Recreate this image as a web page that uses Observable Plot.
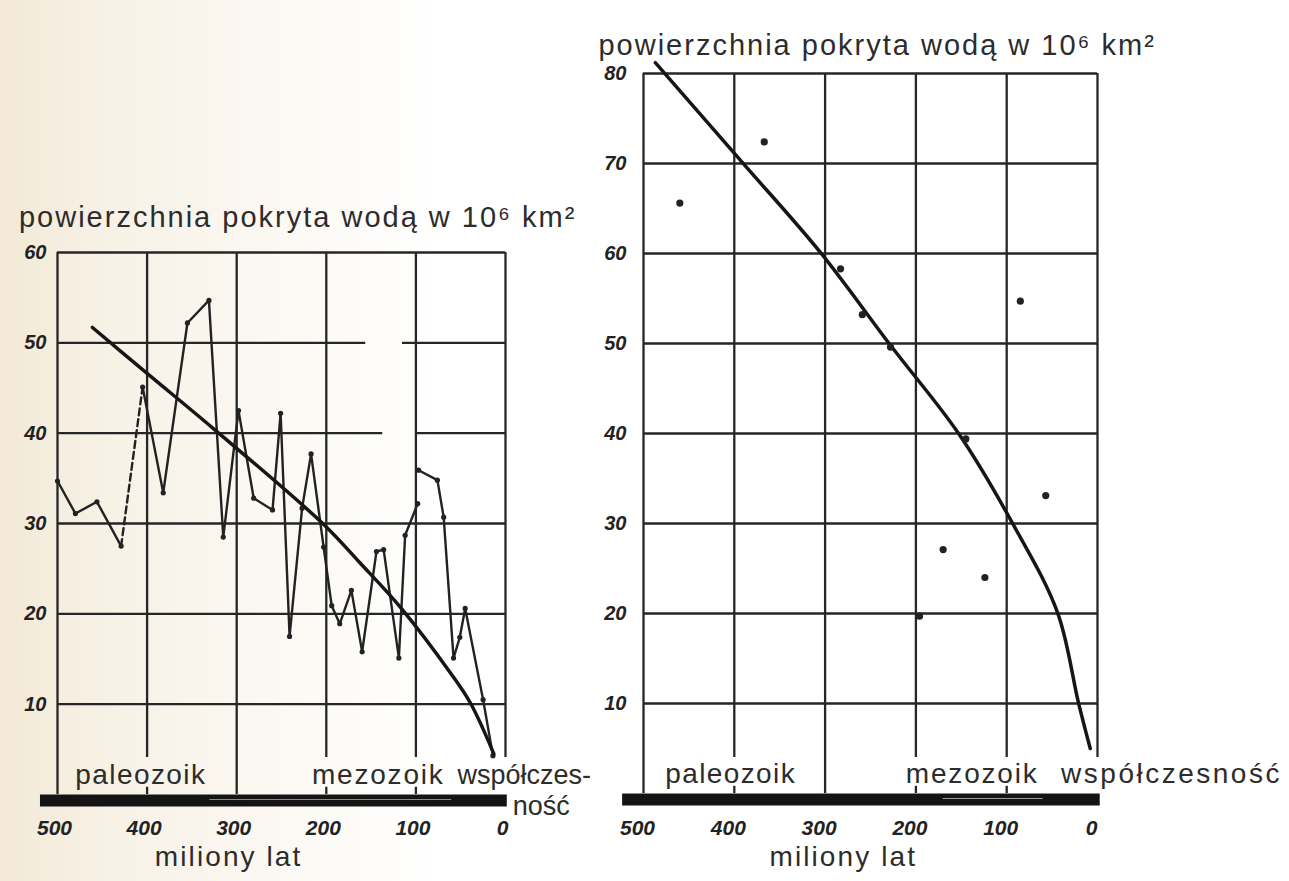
<!DOCTYPE html>
<html><head><meta charset="utf-8">
<script src="https://cdn.jsdelivr.net/npm/d3@7"></script>
<script src="https://cdn.jsdelivr.net/npm/@observablehq/plot@0.6"></script>
<style>
html,body{margin:0;padding:0;width:1289px;height:881px;overflow:hidden;
background:linear-gradient(90deg,#f2e9d7 0%,#f7f1e5 8%,#fbf8f2 20%,#ffffff 34%,#ffffff 100%);}
#wrap{position:relative;width:1289px;height:881px;}
#wrap svg{position:absolute;left:0;top:0;}
</style></head><body><div id="wrap"></div>
<script>
// ---------- data ----------
const xTicks = [500, 400, 300, 200, 100, 0];
const leftYTicks = [10, 20, 30, 40, 50, 60];
const rightYTicks = [10, 20, 30, 40, 50, 60, 70, 80];

const leftAgeA = [500, 480, 456, 429];
const leftValA = [34.7, 31.1, 32.4, 27.5];
const leftAgeDash = [429, 405];
const leftValDash = [27.5, 45.1];
const leftAgeC = [405, 382, 355, 331, 315, 298, 281, 260, 251, 241, 227, 217, 203, 194, 185, 172, 160, 144, 136, 119, 112, 98];
const leftValC = [45.1, 33.4, 52.2, 54.7, 28.5, 42.5, 32.8, 31.5, 42.2, 17.5, 31.7, 37.7, 27.4, 20.9, 18.9, 22.6, 15.8, 26.9, 27.1, 15.1, 28.7, 32.2];
const leftAgeD = [97, 76, 69, 58, 51, 45, 25, 14];
const leftValD = [35.9, 34.8, 30.7, 15.1, 17.4, 20.6, 10.5, 4.3];
const leftTrendAge = [461, 401, 326, 204, 162, 117, 61, 39, 13];
const leftTrendVal = [51.7, 46.7, 40.5, 30.0, 25.6, 20.7, 13.4, 10.1, 4.5];

const rightAge = [460, 367, 283, 259, 228, 145, 85, 57, 170, 124, 196];
const rightVal = [65.6, 72.4, 58.3, 53.2, 49.6, 39.4, 54.7, 33.1, 27.1, 24.0, 19.7];
const rightTrendAge = [487, 391, 305, 228, 153, 94, 44, 21, 8];
const rightTrendVal = [81.2, 70.1, 60.1, 49.8, 40, 30.1, 20.1, 10.1, 5];

const titleText = "powierzchnia pokryta wodą w 10⁶ km²";
const axisTitle = "miliony lat";
const eras = ["paleozoik", "mezozoik", "współczes-", "ność", "współczesność"];

// ---------- helpers ----------
const pts = (a, v) => a.map((x, i) => ({age: x, val: v[i]}));
const INK = "#222";
const FONT = "Liberation Sans, Arial, Helvetica, sans-serif";
const tickFont = {fontFamily: FONT, fontStyle: "italic", fontWeight: "bold", fill: INK};
const lblFont = {fontFamily: FONT, fontSize: 28, fill: "#2c2c2c"};
const titleFont = {fontFamily: FONT, fontSize: 29, fill: "#2c2c2c"};
const grid = {stroke: "#262626", strokeWidth: 2.3};
const ser = {x: "age", y: "val", stroke: INK, strokeWidth: 2.4};
// tracking of the printed labels
const tracking = new Map([[titleText, 2], [axisTitle, 2.1], [eras[0], 1.4], [eras[1], 1.8], [eras[2], 0], [eras[3], 0], [eras[4], 2.5]]);

// ---------- left chart ----------
const left = Plot.plot({
  width: 1289, height: 881,
  style: {background: "transparent", overflow: "visible"},
  x: {domain: [500, 0], range: [57, 505], axis: null},
  y: {domain: [0, 60], range: [794, 252], axis: null},
  marks: [
    Plot.ruleY(leftYTicks.filter(v => v !== 40 && v !== 50), {x1: 500, x2: 0, ...grid}),
    Plot.ruleY([50], {x1: 500, x2: 156, ...grid}),
    Plot.ruleY([50], {x1: 115, x2: 0, ...grid}),
    Plot.ruleY([40], {x1: 500, x2: 137, ...grid}),
    Plot.ruleY([40], {x1: 100, x2: 0, ...grid}),
    Plot.ruleX([500, 300], {y1: 0, y2: 60, ...grid}),
    Plot.ruleX([400, 200, 100, 0], {y1: 4.1, y2: 60, ...grid}),
    Plot.ruleX([400, 200, 100], {y1: 0, y2: 0.8, ...grid}),
    Plot.ruleY([0], {x1: 519, x2: -2, stroke: "#141414", strokeWidth: 12, dy: 6}),
    Plot.ruleY([0], {x1: 330, x2: 60, stroke: "#8a8a8a", strokeWidth: 1.2, dy: 5}),
    Plot.line(pts(leftAgeA, leftValA), ser),
    Plot.line(pts(leftAgeDash, leftValDash), {...ser, strokeDasharray: "7,4"}),
    Plot.line(pts(leftAgeC, leftValC), ser),
    Plot.line(pts(leftAgeD, leftValD), ser),
    Plot.dot([...pts(leftAgeA, leftValA), ...pts(leftAgeC, leftValC), ...pts(leftAgeD, leftValD)], {x: "age", y: "val", r: 2.6, fill: INK}),
    Plot.line(pts(leftTrendAge, leftTrendVal), {x: "age", y: "val", curve: "catmull-rom", stroke: "#161616", strokeWidth: 3.5}),
    Plot.text(leftYTicks, {x: 500, y: d => d, text: d => String(d), dx: -11, textAnchor: "end", fontSize: 20, ...tickFont}),
    Plot.text(xTicks, {x: d => d, y: 0, text: d => String(d), dx: -3, dy: 34, fontSize: 21, ...tickFont}),
    Plot.text([axisTitle], {x: 309, y: 0, dy: 63, text: d => d, ...lblFont}),
    Plot.text([eras[0]], {x: 407, y: 2.1, text: d => d, ...lblFont}),
    Plot.text([eras[1]], {x: 142, y: 2.1, text: d => d, ...lblFont}),
    Plot.text([eras[2]], {x: -21, y: 2.1, text: d => d, ...lblFont, fontSize: 27}),
    Plot.text([eras[3]], {x: -40, y: -1.3, text: d => d, ...lblFont, fontSize: 27}),
    Plot.text([titleText], {x: 543, y: 63.8, text: d => d, textAnchor: "start", ...titleFont})
  ]
});

// ---------- right chart ----------
const right = Plot.plot({
  width: 1289, height: 881,
  style: {background: "transparent", overflow: "visible"},
  x: {domain: [500, 0], range: [643, 1097], axis: null},
  y: {domain: [0, 80], range: [793, 73], axis: null},
  marks: [
    Plot.ruleY(rightYTicks, {x1: 500, x2: 0, ...grid}),
    Plot.ruleX([500, 300], {y1: 0, y2: 80, ...grid}),
    Plot.ruleX([400, 200, 100, 0], {y1: 4.0, y2: 80, ...grid}),
    Plot.ruleX([400, 200, 100], {y1: 0, y2: 0.8, ...grid}),
    Plot.ruleY([0], {x1: 523, x2: -3, stroke: "#141414", strokeWidth: 12, dy: 6}),
    Plot.ruleY([0], {x1: 170, x2: 60, stroke: "#9a9a9a", strokeWidth: 1.2, dy: 5}),
    Plot.line(pts(rightTrendAge, rightTrendVal), {x: "age", y: "val", curve: "catmull-rom", stroke: "#161616", strokeWidth: 3.5}),
    Plot.dot(pts(rightAge, rightVal), {x: "age", y: "val", r: 3.6, fill: INK}),
    Plot.text(rightYTicks, {x: 500, y: d => d, text: d => String(d), dx: -17, textAnchor: "end", fontSize: 20, ...tickFont}),
    Plot.text(xTicks, {x: d => d, y: 0, text: d => String(d), dx: -6, dy: 35, fontSize: 21, ...tickFont}),
    Plot.text([axisTitle], {x: 280, y: 0, dy: 64, text: d => d, ...lblFont}),
    Plot.text([eras[0]], {x: 404, y: 2.2, text: d => d, ...lblFont}),
    Plot.text([eras[1]], {x: 138, y: 2.2, text: d => d, ...lblFont}),
    Plot.text([eras[4]], {x: -81.5, y: 2.2, text: d => d, ...lblFont}),
    Plot.text([titleText], {x: 549.6, y: 83.1, text: d => d, textAnchor: "start", ...titleFont})
  ]
});

document.getElementById("wrap").append(left, right);
d3.selectAll("#wrap text").each(function () {
  const s = tracking.get(this.textContent);
  if (s) this.setAttribute("letter-spacing", s + "px");
});
</script></body></html>
